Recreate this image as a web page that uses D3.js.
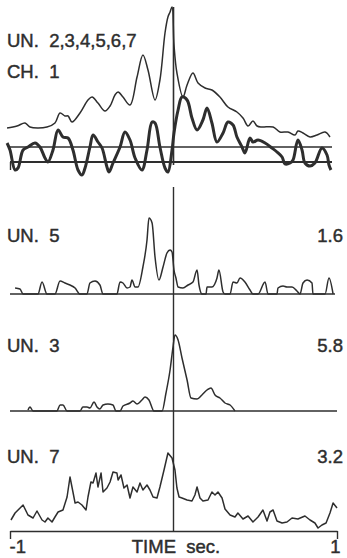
<!DOCTYPE html>
<html>
<head>
<meta charset="utf-8">
<script src="https://cdn.jsdelivr.net/npm/d3@7"></script>
<style>
  body { margin: 0; background: #fff; }
  text { font-family: "Liberation Sans", Arial, sans-serif; fill: #2e2e2e; stroke: #2e2e2e; stroke-width: 0.45px; white-space: pre; }
</style>
</head>
<body>
<div id="chart"></div>
<script>
/////////////////////////////////////////////////////////////
//////////////////// Data ///////////////
/////////////////////////////////////////////////////////////

// [time in sec, amplitude] -- summed histogram of units 2..7
var unitSum = [[-1.018,34],[-0.957,36],[-0.908,39],[-0.878,35],[-0.774,35],[-0.725,39],[-0.694,49],
  [-0.664,46],[-0.645,46],[-0.621,40],[-0.572,49],[-0.523,62],[-0.498,65],[-0.462,59],[-0.419,51],
  [-0.388,56],[-0.358,67],[-0.339,70],[-0.309,65],[-0.266,57],[-0.223,85],[-0.187,107],[-0.156,92],
  [-0.113,62],[-0.083,82],[-0.052,129],[-0.034,145],[-0.021,150],[-0.009,155],[0.003,117],[0.021,89],
  [0.058,65],[0.083,77],[0.119,89],[0.150,79],[0.193,74],[0.235,72],[0.284,65],[0.333,55],[0.388,50],
  [0.425,44],[0.456,36],[0.486,41],[0.511,36],[0.541,35],[0.609,35],[0.651,30],[0.700,30],[0.743,27],
  [0.761,31],[0.792,29],[0.835,25],[0.878,27],[0.927,30],[0.957,25]];

// field potential, channel 1 (thick trace)
var fieldCh1 = [[-1.018,19],[-1.000,12],[-0.969,-8],[-0.951,-6],[-0.920,12],[-0.890,15],[-0.847,19],
  [-0.817,15],[-0.786,4],[-0.768,0],[-0.737,12],[-0.706,32],[-0.676,25],[-0.645,24],[-0.615,12],
  [-0.584,-8],[-0.560,-13],[-0.541,-6],[-0.511,15],[-0.492,27],[-0.462,20],[-0.437,14],[-0.407,-5],
  [-0.394,-10],[-0.370,-1],[-0.327,15],[-0.297,30],[-0.266,22],[-0.235,4],[-0.193,-8],[-0.162,12],
  [-0.131,40],[-0.113,39],[-0.083,15],[-0.052,-6],[-0.034,-10],[-0.009,12],[0.003,29],[0.028,52],
  [0.052,65],[0.083,62],[0.113,44],[0.144,32],[0.180,42],[0.205,54],[0.235,39],[0.266,20],[0.303,29],
  [0.333,40],[0.364,37],[0.388,25],[0.419,15],[0.437,9],[0.468,24],[0.486,20],[0.517,22],[0.560,19],
  [0.602,14],[0.633,10],[0.664,5],[0.682,-2],[0.713,-1],[0.731,2],[0.761,22],[0.786,12],[0.804,-1],
  [0.835,-4],[0.865,-1],[0.908,14],[0.939,7],[0.951,-3],[0.963,-8]];

// unit 5
var unit5 = [[-0.969,6],[-0.939,5],[-0.920,0],[-0.829,0],[-0.804,12],[-0.774,0],[-0.725,0],[-0.694,13],
  [-0.664,11],[-0.633,9],[-0.602,6],[-0.572,0],[-0.529,0],[-0.511,11],[-0.480,13],[-0.450,9],[-0.431,0],
  [-0.346,0],[-0.327,12],[-0.309,11],[-0.284,6],[-0.266,7],[-0.254,14],[-0.235,7],[-0.217,7],[-0.187,27],
  [-0.162,54],[-0.150,76],[-0.131,71],[-0.113,37],[-0.089,14],[-0.064,27],[-0.040,41],[-0.021,44],
  [-0.009,42],[0.003,24],[0.015,16],[0.028,7],[0.058,6],[0.089,9],[0.119,12],[0.144,24],[0.156,9],
  [0.174,0],[0.199,0],[0.205,7],[0.235,7],[0.266,16],[0.278,24],[0.303,2],[0.315,0],[0.346,0],[0.364,12],
  [0.388,11],[0.407,16],[0.437,12],[0.468,4],[0.486,0],[0.517,0],[0.560,12],[0.578,0],[0.633,0],[0.639,6],
  [0.670,8],[0.694,7],[0.725,7],[0.755,3],[0.774,0],[0.792,11],[0.817,14],[0.847,11],[0.853,0],[0.927,0],
  [0.951,16],[0.976,0]];

// unit 3
var unit3 = [[-0.890,1],[-0.878,4],[-0.859,0],[-0.713,0],[-0.694,6],[-0.676,6],[-0.651,0],[-0.572,0],
  [-0.554,4],[-0.529,4],[-0.511,3],[-0.486,9],[-0.468,4],[-0.450,2],[-0.431,6],[-0.401,7],[-0.370,6],
  [-0.352,0],[-0.327,0],[-0.309,5],[-0.266,8],[-0.248,10],[-0.223,7],[-0.193,11],[-0.174,14],[-0.150,11],
  [-0.119,0],[-0.070,0],[-0.046,18],[-0.021,41],[-0.003,64],[0.009,76],[0.028,71],[0.052,53],[0.083,31],
  [0.107,13],[0.144,12],[0.174,16],[0.205,21],[0.229,23],[0.254,16],[0.284,13],[0.315,8],[0.346,6],
  [0.376,0]];

// unit 7
var unit7 = [[-0.994,11],[-0.969,18],[-0.920,26],[-0.890,16],[-0.859,13],[-0.835,20],[-0.804,11],
  [-0.786,9],[-0.768,13],[-0.743,9],[-0.725,14],[-0.706,19],[-0.676,21],[-0.651,34],[-0.633,54],
  [-0.615,39],[-0.602,28],[-0.584,29],[-0.560,26],[-0.535,21],[-0.523,34],[-0.505,49],[-0.492,48],
  [-0.474,58],[-0.462,44],[-0.443,58],[-0.431,39],[-0.407,43],[-0.388,49],[-0.370,59],[-0.346,58],
  [-0.339,51],[-0.321,56],[-0.303,43],[-0.284,46],[-0.266,33],[-0.248,44],[-0.223,39],[-0.205,48],
  [-0.187,41],[-0.162,46],[-0.144,41],[-0.125,34],[-0.101,33],[-0.083,44],[-0.058,61],[-0.034,78],
  [-0.009,73],[0.009,61],[0.021,43],[0.034,34],[0.052,33],[0.083,31],[0.113,30],[0.131,36],[0.144,44],
  [0.162,33],[0.180,30],[0.211,31],[0.235,39],[0.254,36],[0.272,39],[0.297,33],[0.315,22],[0.346,16],
  [0.376,14],[0.394,18],[0.425,12],[0.456,15],[0.486,9],[0.517,14],[0.547,21],[0.572,10],[0.590,19],
  [0.609,21],[0.633,10],[0.664,8],[0.694,9],[0.725,13],[0.761,12],[0.804,15],[0.835,11],[0.865,8],
  [0.884,3],[0.908,6],[0.933,8],[0.957,18],[0.976,28],[1.000,23]];

var topLabels = ["UN.  2,3,4,5,6,7", "CH.  1"];
var unitLabels = ["UN.  5", "UN.  3", "UN.  7"];
var unitScales = ["1.6", "5.8", "3.2"];
var timeTicks = [-1, 1];
var axisTitle = "TIME  sec.";

/////////////////////////////////////////////////////////////
//////////////////////// Drawing ////////////////////////////
/////////////////////////////////////////////////////////////

var width = 347, height = 558, ink = "#2e2e2e", fontSize = "18.5px";

var svg = d3.select("#chart")
  .append("svg")
  .attr("width", width)
  .attr("height", height);

// shared time axis
var x = d3.scaleLinear().domain([-1, 1]).range([10, 337]);

// each strip has its own zero line
var strips = [
  { base: 294, data: unit5 },
  { base: 411, data: unit3 },
  { base: 531, data: unit7 }
];

function yFor(base) {
  return d3.scaleLinear().domain([0, 100]).range([base, base - 100]);
}

// top panel: summed units + field potential
var yTop = yFor(162);

svg.append("line")
  .attr("x1", 8).attr("x2", 332)
  .attr("y1", yTop(15)).attr("y2", yTop(15))
  .attr("stroke", ink).attr("stroke-width", 1.4);

svg.append("g")
  .attr("transform", "translate(0," + yTop(0) + ")")
  .call(d3.axisBottom(x).tickValues([-1]).tickSize(8).tickSizeOuter(0).tickFormat(""))
  .call(g => g.select(".domain").attr("stroke", ink).attr("stroke-width", 2)
    .attr("d", "M" + x(-1) + ",0H332"))
  .call(g => g.selectAll(".tick line").attr("stroke", ink).attr("stroke-width", 1.4));

var lineSmooth = d3.line()
  .x(d => x(d[0]))
  .y(d => yTop(d[1]))
  .curve(d3.curveCatmullRom.alpha(0.5));

svg.append("path")
  .datum(unitSum)
  .attr("d", lineSmooth)
  .attr("fill", "none")
  .attr("stroke", ink)
  .attr("stroke-width", 1.5);

svg.append("path")
  .datum(fieldCh1)
  .attr("d", lineSmooth)
  .attr("fill", "none")
  .attr("stroke", ink)
  .attr("stroke-width", 3)
  .attr("stroke-linejoin", "round");

svg.selectAll(".toplabel")
  .data(topLabels).enter().append("text")
  .attr("x", 7)
  .attr("y", (d, i) => 47 + i * 31)
  .style("font-size", fontSize)
  .text(d => d);

// zero-time marker
svg.append("line")
  .attr("x1", x(0)).attr("x2", x(0))
  .attr("y1", 7).attr("y2", 165)
  .attr("stroke", ink).attr("stroke-width", 1.6);
svg.append("line")
  .attr("x1", x(0)).attr("x2", x(0))
  .attr("y1", 187).attr("y2", 531)
  .attr("stroke", ink).attr("stroke-width", 1.4);

// unit histograms
strips.forEach(function (s, i) {
  var y = yFor(s.base);

  if (i < 2) {
    svg.append("line")
      .attr("x1", x(-1)).attr("x2", x(1) - (i == 0 ? 2 : 0))
      .attr("y1", y(0)).attr("y2", y(0))
      .attr("stroke", ink).attr("stroke-width", 1.4);
  } else {
    var axis = svg.append("g")
      .attr("transform", "translate(0," + y(0) + ")")
      .call(d3.axisBottom(x).tickValues(timeTicks).tickSize(8).tickSizeOuter(0).tickPadding(1)
        .tickFormat(d => d < 0 ? "-1" : "1"));
    axis.select(".domain").attr("stroke", ink).attr("stroke-width", 1.4);
    axis.selectAll(".tick line").attr("stroke", ink).attr("stroke-width", 1.4);
    axis.selectAll(".tick text")
      .attr("fill", ink)
      .style("font-size", fontSize)
      .style("font-family", "'Liberation Sans', Arial, sans-serif")
      .attr("text-anchor", d => d < 0 ? "start" : "end")
      .attr("dx", d => d < 0 ? "-1" : "3");
  }

  var line = d3.line()
    .x(d => x(d[0]))
    .y(d => y(d[1]))
    .curve(i == 2 ? d3.curveLinear : d3.curveMonotoneX);

  svg.append("path")
    .datum(s.data)
    .attr("d", line)
    .attr("fill", "none")
    .attr("stroke", ink)
    .attr("stroke-width", 1.5)
    .attr("stroke-linejoin", "round");

  svg.append("text")
    .attr("x", 7)
    .attr("y", s.base - (i == 0 ? 52 : i == 1 ? 59 : 68))
    .style("font-size", fontSize)
    .text(unitLabels[i]);

  svg.append("text")
    .attr("x", 343)
    .attr("y", s.base - (i == 0 ? 52 : i == 1 ? 59 : 68))
    .attr("text-anchor", "end")
    .style("font-size", fontSize)
    .text(unitScales[i]);
});

svg.append("text")
  .attr("x", 176)
  .attr("y", 553)
  .attr("text-anchor", "middle")
  .style("font-size", fontSize)
  .text(axisTitle);
</script>
</body>
</html>
